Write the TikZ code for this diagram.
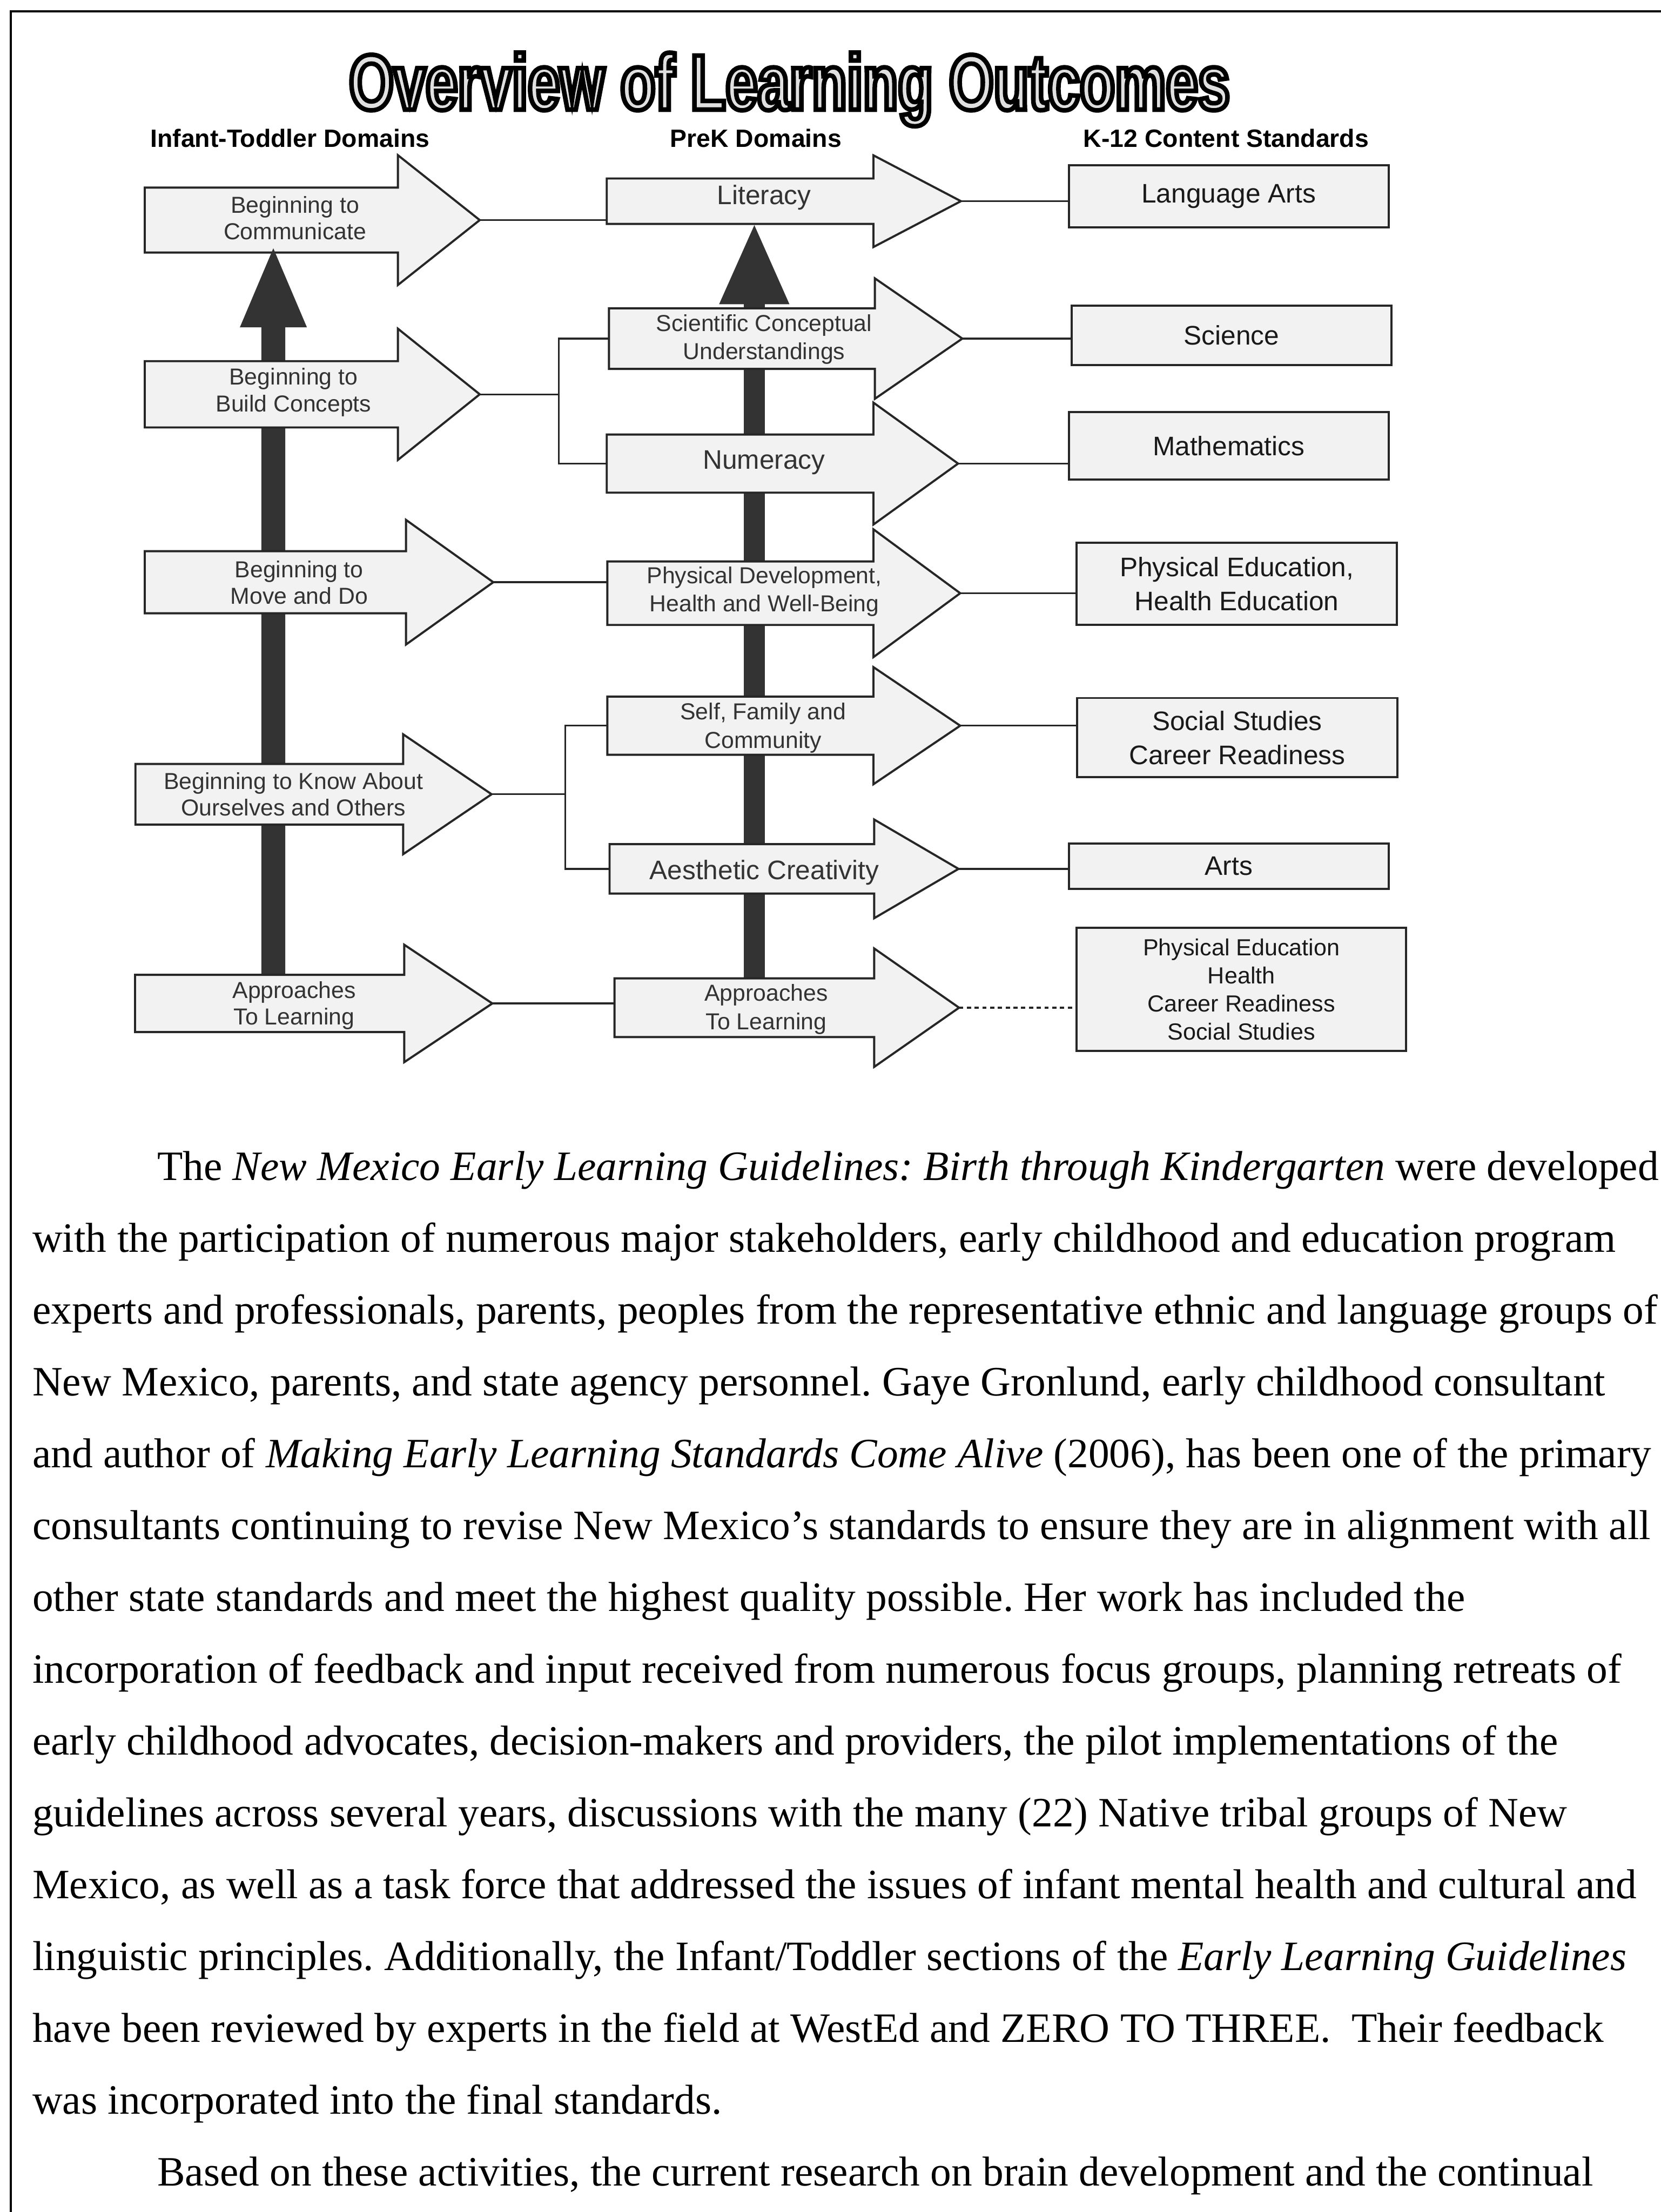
\documentclass[tikz,border=0pt]{standalone}
\usepackage{fontspec}
\setmainfont{Liberation Serif}
\newfontfamily\diagfont{Liberation Sans}
\newfontfamily\titlefont{Liberation Sans}[FakeStretch=0.73]
% hollow letters: black outline, light fill
\newcommand{\hollow}{\special{pdf:literal direct 2 Tr 1.3 w 0 G 0.88 g}}

% one domain arrow: name, tail x, head x, tip x, mid y, half body, half head
\newcommand{\domarrow}[7]{%
  \filldraw[bigarrow] (#2,#5-#6) -- (#3,#5-#6) -- (#3,#5-#7) -- (#4,#5)
    -- (#3,#5+#7) -- (#3,#5+#6) -- (#2,#5+#6) -- cycle;
  \coordinate (#1-tail) at (#2,#5);
  \coordinate (#1-tip) at (#4,#5);
}

\begin{document}
\begin{tikzpicture}[x=0.4pt, y=-0.4pt,
  bigarrow/.style={draw=black!85, line width=0.6pt, fill=gray!10},
  blackarrow/.style={fill=black!80},
  stdbox/.style={draw=black!85, line width=0.6pt, fill=gray!10, inner sep=0pt,
    align=center, text=black!90, font=\diagfont\fontsize{7.6pt}{9.6pt}\selectfont},
  itlab/.style={inner sep=0pt, align=center, text=black!80,
    font=\diagfont\fontsize{6.55pt}{7.6pt}\selectfont},
  pklab/.style={inner sep=0pt, align=center, text=black!80,
    font=\diagfont\fontsize{6.55pt}{8pt}\selectfont},
  pkone/.style={inner sep=0pt, text=black!80, font=\diagfont\fontsize{7.6pt}{9pt}\selectfont},
  colhead/.style={inner sep=0pt, anchor=base, font=\diagfont\bfseries\fontsize{7.1pt}{8.5pt}\selectfont},
  titletext/.style={inner sep=0pt, anchor=base, font=\titlefont\bfseries\fontsize{22.3pt}{26pt}\selectfont},
  linkline/.style={line width=0.5pt, black!85},
  bodyline/.style={inner sep=0pt, anchor=base west, font=\frenchspacing\fontsize{11.85pt}{20pt}\selectfont},
  pageline/.style={line width=0.6pt}]

\useasboundingbox (0,0) rectangle (1177,1568);

% page frame
\draw[pageline] (1177,8) -- (7.5,8) -- (7.5,1568);

% title
\node[titletext] (title) at (559.5,77.7) {\hollow Overview of Learning Outcomes};

\node[colhead] (ithead) at (205.5,104.3) {Infant-Toddler Domains};
\node[colhead] (pkhead) at (535.7,104.3) {PreK Domains};
\node[colhead] (k12head) at (869,104.3) {K-12 Content Standards};

% top row first, the black arrows sit on it
\domarrow{comm}{102.6}{282}{340}{156}{23}{46}
\domarrow{lit}{430}{619}{681}{142.6}{16.1}{32.5}

\fill[blackarrow] (185.2,700) -- (185.2,232) -- (170,232) -- (193.7,176) -- (217.5,232) -- (202.2,232) -- (202.2,700) -- cycle;
\fill[blackarrow] (527.2,700) -- (527.2,215.7) -- (509.6,215.7) -- (534.6,159.6) -- (559.5,215.7) -- (542,215.7) -- (542,700) -- cycle;

% infant-toddler arrows
\domarrow{build}{102.6}{282}{340}{279.5}{23.5}{46.5}
\domarrow{move}{102.6}{287.7}{349.6}{412.7}{22}{44.2}
\domarrow{know}{96}{285.7}{348.4}{563}{21.5}{42.5}
\domarrow{itappr}{95.7}{286.5}{348.9}{711.3}{20.3}{41.6}

% preK arrows
\domarrow{sci}{431.6}{620}{682}{240}{21.5}{42.7}
\domarrow{num}{430}{619}{679}{328.6}{20.6}{43.2}
\domarrow{phys}{430.4}{619}{680.5}{420.5}{22.5}{45.3}
\domarrow{self}{430.4}{619}{680.5}{514.4}{20.6}{41.5}
\domarrow{aest}{432}{619.5}{679.3}{615.9}{17.5}{35}
\domarrow{pkappr}{435.5}{619.5}{679.7}{714.3}{20.8}{42}

% labels
\node[itlab] (comm) at (209,154.5) {Beginning to\\Communicate};
\node[itlab] (build) at (208,278) {Beginning to\\Build Concepts};
\node[itlab] (move) at (212,413) {Beginning to\\Move and Do};
\node[itlab] (know) at (208,563) {Beginning to Know About\\Ourselves and Others};
\node[itlab] (itlearn) at (208.5,712.8) {Approaches\\To Learning};

\node[pkone] (literacy) at (541.5,140) {Literacy};
\node[pklab] (scientific) at (541.5,240.5) {Scientific Conceptual\\Understandings};
\node[pkone] (numeracy) at (541.5,328) {Numeracy};
\node[pklab] (physical) at (541.7,419.4) {Physical Development,\\Health and Well-Being};
\node[pklab] (selffam) at (540.8,516) {Self, Family and\\Community};
\node[pkone] (aesthetic) at (541.7,618.6) {Aesthetic Creativity};
\node[pklab] (pklearn) at (543,715.4) {Approaches\\To Learning};

% content standards
\node[stdbox, minimum width=90.6pt, minimum height=17.6pt] (langarts) at (870.8,139) {Language Arts};
\node[stdbox, minimum width=90.6pt, minimum height=16.8pt] (science) at (872.8,237.6) {Science};
\node[stdbox, minimum width=90.6pt, minimum height=19.2pt] (maths) at (870.8,316) {Mathematics};
\node[stdbox, minimum width=90.8pt, minimum height=23.4pt] (pehealth) at (876.5,413.8) {Physical Education,\\Health Education};
\node[stdbox, minimum width=90.8pt, minimum height=22.5pt] (social) at (876.8,522.9) {Social Studies\\Career Readiness};
\node[stdbox, minimum width=90.6pt, minimum height=12.8pt] (arts) at (870.8,614) {Arts};
\node[stdbox, minimum width=93.4pt, minimum height=35pt, font=\diagfont\fontsize{6.6pt}{8pt}\selectfont] (mixed) at (879.8,701.3) {Physical Education\\Health\\Career Readiness\\Social Studies};

% connectors
\coordinate (fork1) at (396,279.5);
\coordinate (fork2) at (400.6,563);
\draw[linkline] (comm-tip) -- (comm-tip -| lit-tail);
\draw[linkline] (build-tip) -- (fork1);
\draw[linkline] (sci-tail) -| (fork1) |- (num-tail);
\draw[linkline] (move-tip) -- (move-tip -| phys-tail);
\draw[linkline] (know-tip) -- (fork2);
\draw[linkline] (self-tail) -| (fork2) |- (aest-tail);
\draw[linkline] (itappr-tip) -- (itappr-tip -| pkappr-tail);

\draw[linkline] (lit-tip) -- (lit-tip -| langarts.west);
\draw[linkline] (sci-tip) -- (sci-tip -| science.west);
\draw[linkline] (num-tip) -- (num-tip -| maths.west);
\draw[linkline] (phys-tip) -- (phys-tip -| pehealth.west);
\draw[linkline] (self-tip) -- (self-tip -| social.west);
\draw[linkline] (aest-tip) -- (aest-tip -| arts.west);
\draw[linkline, dash pattern=on 1.2pt off 1pt] (pkappr-tip) -- (pkappr-tip -| mixed.west);

% body text
\foreach \txt [count=\i] in {
  {\hspace*{35.4pt}The \textit{New Mexico Early Learning Guidelines: Birth through Kindergarten} were developed},
  {with the participation of numerous major stakeholders, early childhood and education program},
  {experts and professionals, parents, peoples from the representative ethnic and language groups of},
  {New Mexico, parents, and state agency personnel. Gaye Gronlund, early childhood consultant},
  {and author of \textit{Making Early Learning Standards Come Alive} (2006), has been one of the primary},
  {consultants continuing to revise New Mexico's standards to ensure they are in alignment with all},
  {other state standards and meet the highest quality possible. Her work has included the},
  {incorporation of feedback and input received from numerous focus groups, planning retreats of},
  {early childhood advocates, decision-makers and providers, the pilot implementations of the},
  {guidelines across several years, discussions with the many (22) Native tribal groups of New},
  {Mexico, as well as a task force that addressed the issues of infant mental health and cultural and},
  {linguistic principles. Additionally, the Infant/Toddler sections of the \textit{Early Learning Guidelines}},
  {have been reviewed by experts in the field at WestEd and ZERO TO THREE.~ Their feedback},
  {was incorporated into the final standards.},
  {\hspace*{35.4pt}Based on these activities, the current research on brain development and the continual}}
  \node[bodyline] (line\i) at (22.5,{836.7+(\i-1)*50.9}) {\txt};

\end{tikzpicture}
\end{document}
